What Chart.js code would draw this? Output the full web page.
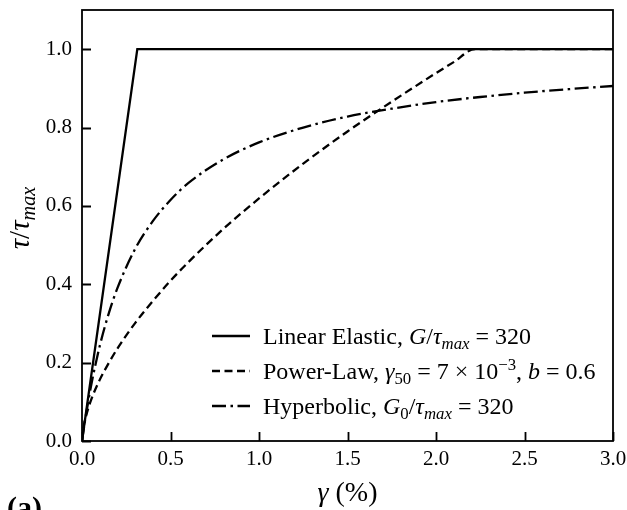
<!DOCTYPE html>
<html>
<head>
<meta charset="utf-8">
<script src="https://cdn.jsdelivr.net/npm/chart.js@4.4.1/dist/chart.umd.min.js"></script>
<style>
  html, body { margin: 0; padding: 0; background: #fff; }
  canvas { display: block; }
</style>
</head>
<body>
<canvas id="chart" width="627" height="510"></canvas>
<script>
// data (gamma in %)
const linearX = [0, 0.3125, 3.0];
const linearY = [0, 1.0, 1.0];

const powerX = [0, 0.01, 0.02, 0.05, 0.1, 0.15, 0.2, 0.3, 0.4, 0.5, 0.6, 0.8, 1.0, 1.25, 1.5, 1.75, 2.0, 2.1, 2.22, 2.5, 3.0];
const powerY = [0, 0.039, 0.059, 0.103, 0.156, 0.198, 0.236, 0.301, 0.357, 0.409, 0.456, 0.542, 0.619, 0.708, 0.790, 0.866, 0.939, 0.967, 1.0, 1.0, 1.0];

const hyperX = [0, 0.01, 0.02, 0.05, 0.1, 0.15, 0.2, 0.3, 0.4, 0.5, 0.6, 0.8, 1.0, 1.25, 1.5, 1.75, 2.0, 2.25, 2.5, 2.75, 3.0];
const hyperY = [0, 0.031, 0.060, 0.138, 0.242, 0.324, 0.390, 0.490, 0.561, 0.615, 0.658, 0.719, 0.762, 0.800, 0.828, 0.848, 0.865, 0.878, 0.889, 0.898, 0.906];

const xTicks = [0, 0.5, 1.0, 1.5, 2.0, 2.5, 3.0];
const yTicks = [0, 0.2, 0.4, 0.6, 0.8, 1.0];

const SERIF = '"Liberation Serif", "Times New Roman", serif';
const DASHED = [8, 4.5];
const DASHDOT = [14, 4.5, 2.5, 4.5];

function pts(xs, ys) {
    return xs.map((x, i) => ({ x: x, y: ys[i] }));
}

// draws text made of pieces (italic / subscript / superscript)
function drawRich(ctx, parts, x, y, size) {
    parts.forEach(p => {
        const s = (p.sub || p.sup) ? size * 0.7 : size;
        ctx.font = (p.it ? 'italic ' : '') + s + 'px ' + SERIF;
        const dy = p.sub ? size * 0.22 : (p.sup ? -size * 0.38 : 0);
        ctx.fillText(p.t, x, y + dy);
        x += ctx.measureText(p.t).width;
    });
    return x;
}

function richWidth(ctx, parts, size) {
    let w = 0;
    parts.forEach(p => {
        const s = (p.sub || p.sup) ? size * 0.7 : size;
        ctx.font = (p.it ? 'italic ' : '') + s + 'px ' + SERIF;
        w += ctx.measureText(p.t).width;
    });
    return w;
}

const legendRows = [
    { dash: [], parts: [
        { t: 'Linear Elastic, ' }, { t: 'G', it: true }, { t: '/' }, { t: 'τ', it: true },
        { t: 'max', it: true, sub: true }, { t: ' = 320' }] },
    { dash: DASHED, parts: [
        { t: 'Power-Law, ' }, { t: 'γ', it: true }, { t: '50', sub: true }, { t: ' = 7 × 10' },
        { t: '−3', sup: true }, { t: ', ' }, { t: 'b', it: true }, { t: ' = 0.6' }] },
    { dash: DASHDOT, parts: [
        { t: 'Hyperbolic, ' }, { t: 'G', it: true }, { t: '0', sub: true }, { t: '/' }, { t: 'τ', it: true },
        { t: 'max', it: true, sub: true }, { t: ' = 320' }] }
];

// frame, inward ticks, legend, axis titles
const decorPlugin = {
    id: 'decor',
    afterDraw(chart) {
        const ctx = chart.ctx;
        const a = chart.chartArea;
        const xs = chart.scales.x, ys = chart.scales.y;
        ctx.save();
        ctx.strokeStyle = '#000';
        ctx.fillStyle = '#000';
        ctx.lineWidth = 1.8;
        ctx.setLineDash([]);
        ctx.strokeRect(a.left, a.top, a.right - a.left, a.bottom - a.top);

        ctx.beginPath();
        xTicks.forEach(v => {
            const px = Math.round(xs.getPixelForValue(v)) + 0.5;
            ctx.moveTo(px, a.bottom);
            ctx.lineTo(px, a.bottom - 9);
        });
        yTicks.forEach(v => {
            const py = Math.round(ys.getPixelForValue(v)) + 0.5;
            ctx.moveTo(a.left, py);
            ctx.lineTo(a.left + 9, py);
        });
        ctx.stroke();

        // legend
        ctx.textBaseline = 'alphabetic';
        ctx.textAlign = 'left';
        legendRows.forEach((r, i) => {
            const cy = 336 + i * 35;
            ctx.lineWidth = 2.3;
            ctx.setLineDash(r.dash);
            ctx.beginPath();
            ctx.moveTo(212, cy);
            ctx.lineTo(250, cy);
            ctx.stroke();
            ctx.setLineDash([]);
            drawRich(ctx, r.parts, 263, cy + 8, 24);
        });

        // x title
        const xt = [{ t: 'γ', it: true }, { t: ' (%)' }];
        const cx = (a.left + a.right) / 2;
        drawRich(ctx, xt, cx - richWidth(ctx, xt, 28) / 2, 501, 28);

        // y title
        const yt = [{ t: 'τ', it: true }, { t: '/' }, { t: 'τ', it: true }, { t: 'max', it: true, sub: true }];
        ctx.translate(29, 218);
        ctx.rotate(-Math.PI / 2);
        drawRich(ctx, yt, -richWidth(ctx, yt, 29) / 2, 0, 29);
        ctx.restore();

        ctx.save();
        ctx.fillStyle = '#000';
        ctx.font = 'bold 30px ' + SERIF;
        ctx.fillText('(a)', 7, 517);
        ctx.restore();
    }
};

function lineSet(label, data, dash, smooth) {
    return {
        label: label,
        data: data,
        borderColor: '#000',
        borderWidth: 2.3,
        borderDash: dash,
        pointRadius: 0,
        fill: false,
        showLine: true,
        tension: 0,
        cubicInterpolationMode: smooth ? 'monotone' : 'default'
    };
}

new Chart(document.getElementById('chart').getContext('2d'), {
    type: 'scatter',
    data: {
        datasets: [
            lineSet('Linear Elastic', pts(linearX, linearY), [], false),
            lineSet('Power-Law', pts(powerX, powerY), DASHED, true),
            lineSet('Hyperbolic', pts(hyperX, hyperY), DASHDOT, true)
        ]
    },
    plugins: [decorPlugin],
    options: {
        responsive: false,
        animation: false,
        layout: { padding: { left: 0, top: 10, right: 14, bottom: 0 } },
        plugins: {
            legend: { display: false },
            tooltip: { enabled: false }
        },
        scales: {
            x: {
                type: 'linear',
                min: 0,
                max: 3,
                afterFit: s => {
                    s.height = 69;
                    s.paddingLeft = 0; s.paddingRight = 0;
                },
                afterBuildTicks: s => { s.ticks = xTicks.map(v => ({ value: v })); },
                ticks: {
                    callback: v => Number(v).toFixed(1),
                    font: { family: SERIF, size: 21 },
                    color: '#000',
                    padding: 6,
                    maxRotation: 0
                },
                grid: { display: false, drawTicks: false },
                border: { display: false }
            },
            y: {
                type: 'linear',
                min: 0,
                max: 1.1,
                afterFit: s => {
                    s.width = 82;
                    s.paddingTop = 0; s.paddingBottom = 0;
                },
                afterBuildTicks: s => { s.ticks = yTicks.map(v => ({ value: v })); },
                ticks: {
                    callback: v => Number(v).toFixed(1),
                    font: { family: SERIF, size: 21 },
                    color: '#000',
                    padding: 10
                },
                grid: { display: false, drawTicks: false },
                border: { display: false }
            }
        }
    }
});
</script>
</body>
</html>
